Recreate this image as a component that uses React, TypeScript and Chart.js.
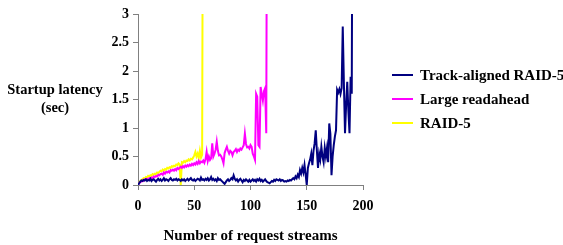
import React, { useEffect, useRef } from "react";
import { Chart, registerables } from "chart.js";

Chart.register(...registerables);

// x = number of request streams (0, 1, 2, ...), y = startup latency (sec)
const trackAligned = [
  0, 0.03, 0.06, 0.08, 0.07, 0.09, 0.08, 0.1, 0.07, 0.09,
  0.08, 0.11, 0.07, 0.09, 0.1, 0.08, 0.06, 0.09, 0.11, 0.08,
  0.1, 0.07, 0.09, 0.12, 0.08, 0.1, 0.09, 0.07, 0.1, 0.12,
  0.09, 0.08, 0.1, 0.09, 0.11, 0.08, 0.1, 0.09, 0.07, 0.1,
  0.08, 0.1, 0.07, 0.09, 0.11, 0.08, 0.1, 0.12, 0.09, 0.08,
  0.1, 0.07, 0.09, 0.11, 0.1, 0.08, 0.13, 0.09, 0.1, 0.08,
  0.11, 0.09, 0.12, 0.08, 0.1, 0.14, 0.09, 0.11, 0.08, 0.1,
  0.07, 0.12, 0.09, 0.1, 0.08, 0.06, 0.04, 0.02, 0.05, 0.08,
  0.1, 0.07, 0.09, 0.12, 0.1, 0.17, 0.11, 0.08, 0.1, 0.06,
  0.09, 0.11, 0.08, 0.05, 0.09, 0.07, 0.1, 0.08, 0.06, 0.09,
  0.06, 0.08, 0.1, 0.07, 0.09, 0.06, 0.1, 0.08, 0.11, 0.07,
  0.09, 0.06, 0.08, 0.1, 0.07, 0.05, 0.04, 0.03, 0.05, 0.07,
  0.06, 0.09, 0.07, 0.1, 0.09, 0.08, 0.1, 0.07, 0.09, 0.08,
  0.06, 0.07, 0.06, 0.08, 0.07, 0.09, 0.08, 0.1, 0.12, 0.1,
  0.15, 0.12, 0.18, 0.14, 0.26, 0.2, 0.3, 0.22, 0.35, 0.18,
  0.0, 0.3, 0.38, 0.45, 0.55, 0.35, 0.6, 0.73, 0.96, 0.6,
  0.3, 0.55, 0.45, 0.67, 0.5, 0.4, 0.65, 0.5, 0.65, 0.4,
  1.08, 0.9, 0.17, 0.5, 0.7, 0.85, 0.96, 1.67, 1.62, 1.68,
  1.6, 1.7, 2.78, 1.8, 0.91, 1.4, 1.81, 1.3, 0.91, 1.9,
  1.6, 8,
];

const largeReadahead = [
  0, 0.03, 0.05, 0.06, 0.08, 0.07, 0.1, 0.09, 0.11, 0.1,
  0.12, 0.1, 0.13, 0.12, 0.15, 0.14, 0.16, 0.15, 0.18, 0.17,
  0.19, 0.2, 0.18, 0.22, 0.2, 0.23, 0.22, 0.24, 0.22, 0.26,
  0.25, 0.27, 0.25, 0.28, 0.26, 0.3, 0.28, 0.3, 0.32, 0.3,
  0.33, 0.31, 0.34, 0.32, 0.35, 0.33, 0.36, 0.34, 0.37, 0.35,
  0.38, 0.36, 0.4, 0.37, 0.42, 0.38, 0.41, 0.4, 0.43, 0.39,
  0.45, 0.58, 0.42, 0.5, 0.44, 0.47, 0.73, 0.5, 0.55, 0.62,
  0.76, 0.6, 0.52, 0.53, 0.5, 0.45, 0.38, 0.56, 0.62, 0.67,
  0.6, 0.55, 0.6, 0.58, 0.52, 0.58, 0.6, 0.63, 0.58, 0.62,
  0.6, 0.64, 0.62, 0.66, 0.7, 0.9, 0.72, 0.66, 0.67, 0.64,
  0.7, 0.67, 0.55, 0.5, 0.44, 1.6, 1.55, 0.7, 0.67, 1.72,
  1.6, 1.48, 1.65, 1.7, 0.91, 8,
];

const raid5 = [
  0, 0.04, 0.07, 0.09, 0.1, 0.12, 0.11, 0.14, 0.13, 0.16,
  0.15, 0.17, 0.16, 0.19, 0.18, 0.2, 0.19, 0.22, 0.21, 0.23,
  0.25, 0.24, 0.27, 0.25, 0.28, 0.27, 0.3, 0.29, 0.31, 0.3,
  0.33, 0.32, 0.34, 0.33, 0.36, 0.35, 0.38, 0.36, 0.0, 0.4,
  0.39, 0.42, 0.4, 0.43, 0.42, 0.45, 0.43, 0.46, 0.45, 0.48,
  0.52, 0.58, 0.5, 0.55, 0.47, 0.6, 0.48, 0.53, 8,
];

const seriesNames = ["Track-aligned RAID-5", "Large readahead", "RAID-5"];
const seriesColors = ["#000080", "#FF00FF", "#FFFF00"];
const seriesValues = [trackAligned, largeReadahead, raid5];

const xTickValues = [0, 50, 100, 150, 200];
const yTickValues = [0, 0.5, 1, 1.5, 2, 2.5, 3];
const yTitleLines = ["Startup latency", "(sec)"];
const xTitleText = "Number of request streams";

const FONT_FAMILY = "'Liberation Serif', 'Times New Roman', serif";

const overlayPlugin = {
  id: "overlayText",
  afterDraw(chart: any) {
    const { ctx, chartArea } = chart;
    ctx.save();
    ctx.fillStyle = "#000";
    ctx.textBaseline = "middle";
    // y-axis title, horizontal, two lines
    ctx.font = `bold 14.5px ${FONT_FAMILY}`;
    ctx.textAlign = "center";
    const titleX = chartArea.left - 83;
    yTitleLines.forEach((line, i) => {
      ctx.fillText(line, titleX, chartArea.top + 76 + i * 18);
    });
    // legend
    ctx.font = `bold 15px ${FONT_FAMILY}`;
    ctx.textAlign = "left";
    const lx = chartArea.right + 29;
    seriesNames.forEach((name, i) => {
      const y = chartArea.top + 61 + i * 24;
      ctx.strokeStyle = seriesColors[i];
      ctx.lineWidth = 2;
      ctx.beginPath();
      ctx.moveTo(lx, y);
      ctx.lineTo(lx + 21, y);
      ctx.stroke();
      ctx.fillText(name, lx + 28, y + 1);
    });
    ctx.restore();
  },
};

export default function App() {
  const canvasRef = useRef<HTMLCanvasElement | null>(null);

  useEffect(() => {
    document.body.style.margin = "0";
    const canvas = canvasRef.current;
    if (!canvas) return;
    const datasets = seriesValues.map((vals, i) => ({
      label: seriesNames[i],
      data: vals.map((v, x) => ({ x, y: v })),
      borderColor: seriesColors[i],
      backgroundColor: seriesColors[i],
      borderWidth: 2,
      pointRadius: 0,
      tension: 0,
      fill: false,
    }));
    const tickFont = { family: FONT_FAMILY, size: 14, weight: "bold" as const };
    const chart = new Chart(canvas, {
      type: "line",
      data: { datasets },
      options: {
        animation: false,
        responsive: false,
        maintainAspectRatio: false,
        events: [],
        layout: { padding: { left: 0, right: 200, top: 14, bottom: 0 } },
        plugins: {
          legend: { display: false },
          tooltip: { enabled: false },
          title: { display: false },
        },
        scales: {
          x: {
            type: "linear",
            min: 0,
            max: 200,
            afterBuildTicks: (scale: any) => {
              scale.ticks = xTickValues.map((v) => ({ value: v }));
            },
            afterFit: (scale: any) => {
              scale.height = 60;
            },
            ticks: {
              font: tickFont,
              color: "#000",
              padding: 8,
              maxRotation: 0,
              callback: (v: any) => String(v),
            },
            grid: {
              drawOnChartArea: false,
              drawTicks: true,
              tickLength: 5,
              tickColor: "#808080",
            },
            border: { color: "#808080", width: 1 },
            title: {
              display: true,
              text: xTitleText,
              font: { family: FONT_FAMILY, size: 15, weight: "bold" as const },
              color: "#000",
              padding: { top: 0, bottom: 0 },
            },
          },
          y: {
            type: "linear",
            min: 0,
            max: 3,
            afterBuildTicks: (scale: any) => {
              scale.ticks = yTickValues.map((v) => ({ value: v }));
            },
            afterFit: (scale: any) => {
              scale.width = 138;
            },
            ticks: {
              font: tickFont,
              color: "#000",
              padding: 4,
              callback: (v: any) => String(v),
            },
            grid: {
              drawOnChartArea: false,
              drawTicks: true,
              tickLength: 5,
              tickColor: "#808080",
            },
            border: { color: "#808080", width: 1 },
          },
        },
      },
      plugins: [overlayPlugin],
    });
    return () => chart.destroy();
  }, []);

  return (
    <div style={{ width: 563, height: 245 }}>
      <canvas ref={canvasRef} width={563} height={245} style={{ display: "block" }} />
    </div>
  );
}
